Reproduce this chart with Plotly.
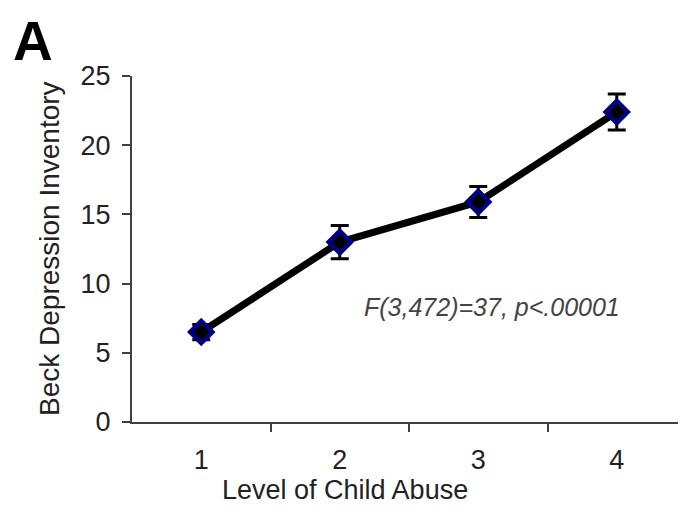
import plotly.graph_objects as go

levels = [1, 2, 3, 4]
level_labels = ["1", "2", "3", "4"]
bdi_mean = [6.5, 13.0, 15.9, 22.4]
bdi_err = [0.55, 1.2, 1.12, 1.3]
y_ticks = [0, 5, 10, 15, 20, 25]
stat_text = "F(3,472)=37, p<.00001"

FONT = "Liberation Sans, Arial, sans-serif"
OFF = 8  # page body margin
W, H = 686 - OFF, 508 - OFF
L, R, T, B = 132 - OFF, 0, 76 - OFF, 86
pw = W - L - R
ph = H - T - B


def px_x(x):
    return (x - OFF - L) / pw


def px_y(y):
    return (H - B - (y - OFF)) / ph


fig = go.Figure()
fig.add_trace(go.Scatter(
    x=levels, y=bdi_mean, mode="lines+markers",
    line=dict(color="black", width=7),
    marker=dict(symbol="diamond", size=17, color="black",
                line=dict(color="#000080", width=4.5)),
    error_y=dict(type="data", array=bdi_err, visible=True,
                 color="black", thickness=3, width=9),
    showlegend=False,
))

fig.update_layout(
    width=W, height=H,
    margin=dict(l=L, r=R, t=T, b=B),
    paper_bgcolor="white", plot_bgcolor="white",
    font=dict(family=FONT, size=27, color="#222"),
    xaxis=dict(
        range=[0.5, 4.5], tickvals=levels, ticktext=level_labels,
        ticks="", showgrid=False, zeroline=False,
        showline=True, linecolor="#404040", linewidth=2,
        ticklabelstandoff=13,
        tickfont=dict(size=27, color="#222"),
        minor=dict(tickvals=[1.5, 2.5, 3.5], ticks="outside",
                   ticklen=8, tickwidth=2, tickcolor="#404040"),
    ),
    yaxis=dict(
        range=[0, 25], tickvals=y_ticks,
        ticks="outside", ticklen=8, tickwidth=2, tickcolor="#404040",
        showgrid=False, zeroline=False,
        showline=True, linecolor="#404040", linewidth=2,
        ticklabelstandoff=6,
        tickfont=dict(size=27, color="#222"),
    ),
)

fig.add_annotation(text=stat_text, xref="paper", yref="y",
                   x=px_x(362), y=8.3, xanchor="left", yanchor="middle",
                   showarrow=False,
                   font=dict(family=FONT, size=25, color="#444",
                             style="italic"))
fig.add_annotation(text="Level of Child Abuse", xref="paper", yref="paper",
                   x=px_x(345), y=px_y(490),
                   xanchor="center", yanchor="middle", showarrow=False,
                   font=dict(family=FONT, size=27, color="#222"))
fig.add_annotation(text="Beck Depression Inventory", xref="paper", yref="paper",
                   x=px_x(49), y=0.5, textangle=-90,
                   xanchor="center", yanchor="middle", showarrow=False,
                   font=dict(family=FONT, size=28, color="#222"))
fig.add_annotation(text="<b>A</b>", xref="paper", yref="paper",
                   x=px_x(11), y=px_y(8.5),
                   xanchor="left", yanchor="top", showarrow=False,
                   font=dict(family=FONT, size=55, color="black"))

fig.write_html("out.html")
